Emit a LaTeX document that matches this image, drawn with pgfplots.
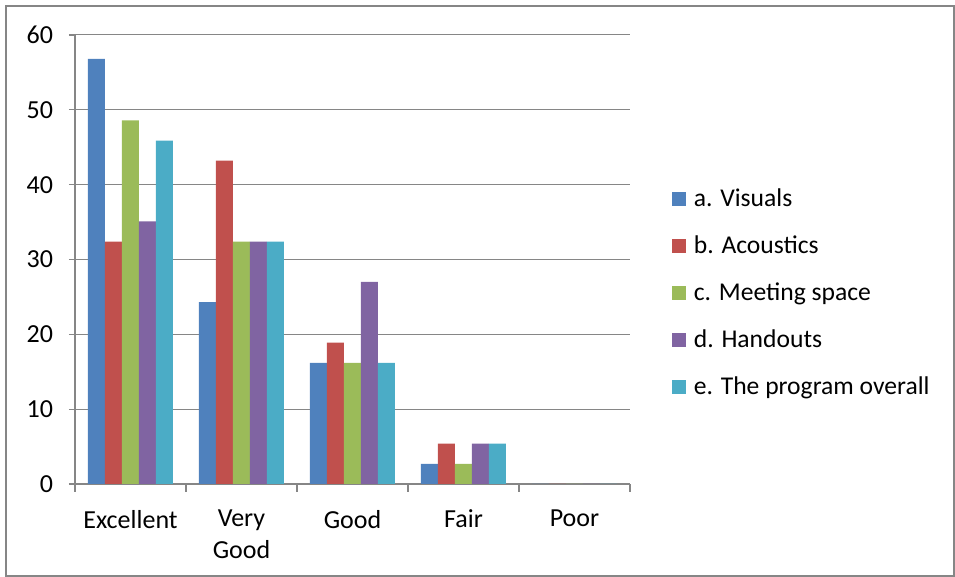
\documentclass[border=0pt]{standalone}
\usepackage{pgfplots}
\pgfplotsset{compat=1.18}
\usepackage{fontspec}
\setmainfont{Carlito}

\definecolor{cA}{HTML}{4F81BD}
\definecolor{cB}{HTML}{C0504D}
\definecolor{cC}{HTML}{9BBB59}
\definecolor{cD}{HTML}{8064A2}
\definecolor{cE}{HTML}{4BACC6}
\definecolor{linegray}{HTML}{868686}

\begin{document}
\begin{tikzpicture}
	\useasboundingbox (-37.5pt,-46.5pt) rectangle (440pt,242pt);
	\draw[linegray, line width=0.75pt] (-34.5pt,-46pt) rectangle (439.5pt,239pt);
	\begin{axis}[
			scale only axis,
			width=277.5pt, height=224.5pt,
			font=\fontsize{13pt}{16pt}\selectfont,
			/pgf/number format/assume math mode=true,
			ybar=0pt, bar width=8.5pt,
			xmin=-0.5, xmax=4.5,
			ymin=0, ymax=60,
			ytick={0,10,...,60},
			xtick={0,...,4},
			xticklabels={Excellent,{Very\\Good},Good,Fair,Poor},
			xticklabel style={align=center, yshift=-6.5pt},
			yticklabel style={xshift=-4.5pt},
			xtick style={draw=none},
			extra x ticks={-0.5,0.5,1.5,2.5,3.5,4.5},
			extra x tick labels={},
			extra x tick style={xtick style={draw=linegray, line width=0.6pt}, major tick length=4pt, tick align=outside, grid=none},
			ytick style={draw=linegray, line width=0.6pt},
			major tick length=3pt, tick align=outside,
			axis x line*=bottom, axis y line*=left,
			axis line style={linegray, line width=0.6pt},
			ymajorgrids=true,
			grid style={linegray, line width=0.5pt},
			legend style={draw=none, at={(1.064,0.425)}, anchor=west, row sep=9.2pt, font=\fontsize{12.8pt}{16pt}\selectfont, legend cell align=left,
					nodes={inner xsep=4pt}},
			legend image code/.code={\fill[#1] (0pt,-3.5pt) rectangle (7pt,3.5pt);},
		]

		\addplot[fill=cA, draw=none] coordinates {(0,56.8)(1,24.3)(2,16.2)(3,2.7)(4,0)};
		\addlegendentry{a. Visuals}

		\addplot[fill=cB, draw=none] coordinates {(0,32.4)(1,43.2)(2,18.9)(3,5.4)(4,0)};
		\addlegendentry{b. Acoustics}

		\addplot[fill=cC, draw=none] coordinates {(0,48.6)(1,32.4)(2,16.2)(3,2.7)(4,0)};
		\addlegendentry{c. Meeting space}

		\addplot[fill=cD, draw=none] coordinates {(0,35.1)(1,32.4)(2,27.0)(3,5.4)(4,0)};
		\addlegendentry{d. Handouts}

		\addplot[fill=cE, draw=none] coordinates {(0,45.9)(1,32.4)(2,16.2)(3,5.4)(4,0)};
		\addlegendentry{e. The program overall}

	\end{axis}
\end{tikzpicture}
\end{document}
